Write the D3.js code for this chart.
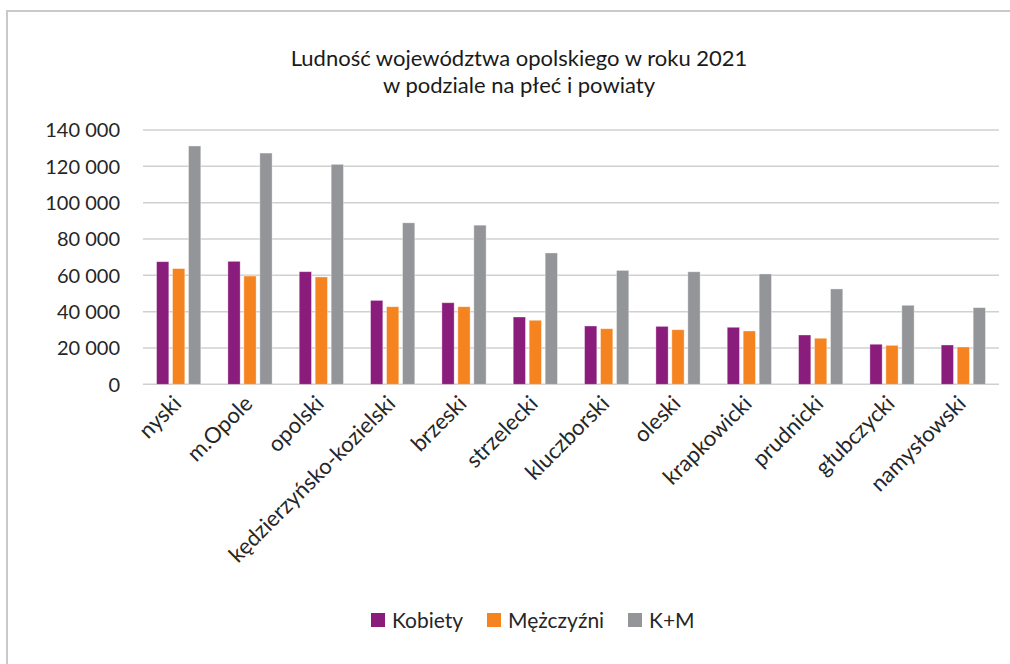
<!DOCTYPE html>
<html>
<head>
<meta charset="utf-8">
<script src="https://cdn.jsdelivr.net/npm/d3@7"></script>
<style>
  body { margin: 0; background: #fff; }
  svg { display: block; font-family: Lato, "Open Sans", sans-serif; }
</style>
</head>
<body>
<div id="chart"></div>
<script>
// Data
const powiaty = ["nyski", "m.Opole", "opolski", "kędzierzyńsko-kozielski", "brzeski", "strzelecki",
                 "kluczborski", "oleski", "krapkowicki", "prudnicki", "głubczycki", "namysłowski"];
const kobiety    = [67500, 67700, 62000, 46200, 44900, 37050, 32100, 31900, 31400, 27150, 22050, 21650];
const mezczyzni  = [63700, 59600, 59100, 42700, 42700, 35250, 30600, 30050, 29350, 25350, 21450, 20550];
const razem      = [131200, 127300, 121100, 88900, 87600, 72300, 62700, 61950, 60750, 52500, 43500, 42200];
const seriesNames = ["Kobiety", "Mężczyźni", "K+M"];
const seriesColors = ["#8a1c7c", "#f58420", "#939598"];
const yTicks = [0, 20000, 40000, 60000, 80000, 100000, 120000, 140000];

const width = 1010, height = 664;
const margin = { left: 143, right: 11 };

const svg = d3.select("#chart").append("svg")
    .attr("width", width)
    .attr("height", height);

// chart frame (only top and left edges fall inside the picture)
svg.append("path")
    .attr("d", `M7,${height} V11 H${width}`)
    .attr("fill", "none")
    .attr("stroke", "#c9c9c9")
    .attr("stroke-width", 2);

// Title
const title = svg.append("text")
    .attr("text-anchor", "middle")
    .attr("font-size", 22)
    .attr("fill", "#1a1a1a");
title.append("tspan").attr("x", 519).attr("y", 66).text("Ludność województwa opolskiego w roku 2021");
title.append("tspan").attr("x", 519).attr("y", 93).text("w podziale na płeć i powiaty");

const x = d3.scaleBand()
    .domain(powiaty)
    .range([margin.left, width - margin.right]);

const y = d3.scaleLinear()
    .domain([0, 140000])
    .range([384.3, 130]);

const fmt = v => d3.format(",")(v).replace(/,/g, " ");

// gridlines
svg.append("g")
    .selectAll("line")
    .data(yTicks)
    .join("line")
    .attr("x1", margin.left)
    .attr("x2", width - margin.right)
    .attr("y1", d => y(d))
    .attr("y2", d => y(d))
    .attr("stroke", "#d0d0d0")
    .attr("stroke-width", 1.5);

// y labels
svg.append("g")
    .selectAll("text")
    .data(yTicks)
    .join("text")
    .attr("x", 120)
    .attr("y", d => y(d))
    .attr("dy", "0.36em")
    .attr("text-anchor", "end")
    .attr("font-size", 20)
    .attr("fill", "#262626")
    .text(fmt);

// bars
const step = x.bandwidth() * 0.224;
const barW = x.bandwidth() * 0.172;
const groupW = step * 2 + barW;
const series = [kobiety, mezczyzni, razem];

const groups = svg.append("g")
    .selectAll("g")
    .data(series)
    .join("g")
    .attr("fill", (d, i) => seriesColors[i]);

groups.selectAll("rect")
    .data((vals, si) => vals.map((v, i) => ({ v, p: powiaty[i], si })))
    .join("rect")
    .attr("x", d => x(d.p) + x.bandwidth() / 2 - groupW / 2 + d.si * step)
    .attr("y", d => y(d.v))
    .attr("width", barW)
    .attr("height", d => y(0) - y(d.v))
    .attr("stroke", "#ffffff")
    .attr("stroke-opacity", 0.45)
    .attr("stroke-width", 0.8);

// x labels
svg.append("g")
    .selectAll("text")
    .data(powiaty)
    .join("text")
    .attr("transform", d => `translate(${x(d) + x.bandwidth() / 2 + 4},${405}) rotate(-45)`)
    .attr("text-anchor", "end")
    .attr("font-size", 22)
    .attr("fill", "#262626")
    .text(d => d);

// legend
const legendX = [371, 487, 628];
const legend = svg.append("g")
    .selectAll("g")
    .data(seriesNames)
    .join("g")
    .attr("transform", (d, i) => `translate(${legendX[i]},620)`);
legend.append("rect")
    .attr("x", 0).attr("y", -7)
    .attr("width", 14).attr("height", 14)
    .attr("fill", (d, i) => seriesColors[i]);
legend.append("text")
    .attr("x", 21)
    .attr("dy", "0.36em")
    .attr("font-size", 21)
    .attr("fill", "#262626")
    .text(d => d);
</script>
</body>
</html>
